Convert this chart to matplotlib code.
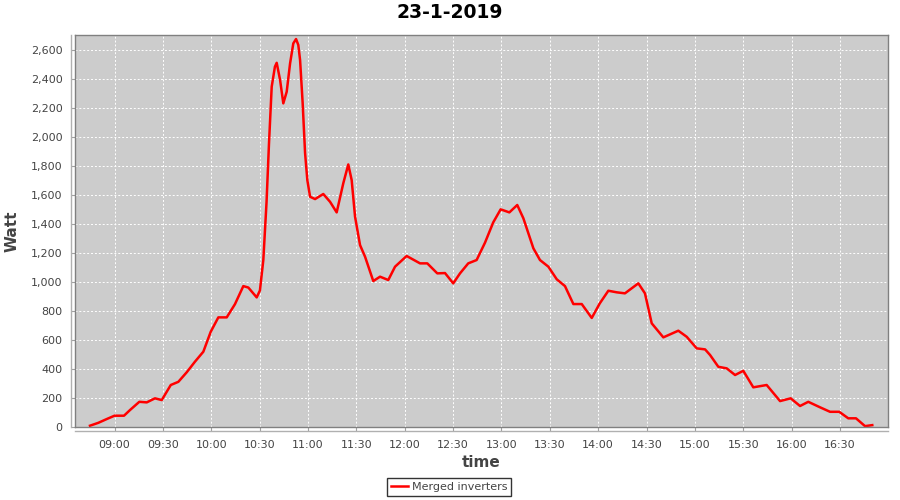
import pandas as pd
import matplotlib
matplotlib.use("Agg")
import matplotlib.pyplot as plt
import matplotlib.dates as mdates
from matplotlib.ticker import FuncFormatter, MultipleLocator

# readings of the merged inverters, 23-1-2019
times = [
    "08:44:48", "08:50:00", "08:55:12", "09:00:00", "09:05:54", "09:09:36",
    "09:15:24", "09:20:00", "09:25:06", "09:29:18", "09:34:54", "09:39:36",
    "09:44:48", "09:49:54", "09:55:06", "09:59:42", "10:04:24", "10:09:36",
    "10:14:42", "10:19:54", "10:23:00", "10:28:12", "10:30:12", "10:32:18",
    "10:34:18", "10:35:48", "10:37:30", "10:39:30", "10:40:36", "10:42:42",
    "10:44:42", "10:46:48", "10:48:54", "10:50:54", "10:52:36", "10:54:00",
    "10:55:06", "10:56:42", "10:58:12", "10:59:36", "11:01:18", "11:04:24",
    "11:09:30", "11:13:42", "11:17:48", "11:21:54", "11:25:00", "11:27:06",
    "11:29:12", "11:32:18", "11:35:24", "11:40:30", "11:44:42", "11:49:48",
    "11:54:00", "12:01:12", "12:09:30", "12:14:00", "12:20:12", "12:25:00",
    "12:30:06", "12:34:18", "12:39:24", "12:44:36", "12:49:48", "12:54:54",
    "12:59:30", "13:04:54", "13:09:48", "13:13:36", "13:19:48", "13:23:54",
    "13:29:06", "13:34:18", "13:39:24", "13:44:36", "13:49:48", "13:56:00",
    "14:01:00", "14:06:18", "14:11:30", "14:16:36", "14:24:54", "14:29:00",
    "14:33:12", "14:40:24", "14:49:42", "14:54:54", "15:01:06", "15:06:18",
    "15:09:24", "15:14:30", "15:19:42", "15:24:54", "15:30:00", "15:36:12",
    "15:44:30", "15:52:48", "15:59:24", "16:05:12", "16:10:18", "16:17:36",
    "16:23:48", "16:29:30", "16:35:06", "16:39:54", "16:45:30", "16:50:00",
]
watt = [
    6, 26, 52, 75, 75, 114,
    171, 167, 195, 183, 287, 309,
    375, 448, 517, 655, 754, 754,
    845, 970, 960, 892, 940, 1150,
    1550, 1950, 2347, 2485, 2512, 2393,
    2232, 2312, 2508, 2646, 2676, 2635,
    2531, 2234, 1889, 1702, 1587, 1571,
    1606, 1552, 1479, 1680, 1810, 1702,
    1449, 1253, 1173, 1005, 1035, 1012,
    1104, 1178, 1127, 1127, 1058, 1060,
    989, 1058, 1127, 1150, 1270, 1410,
    1500, 1479, 1530, 1438, 1231, 1150,
    1104, 1017, 970, 846, 846, 750,
    851, 938, 927, 920, 989, 920,
    713, 616, 662, 620, 540, 533,
    494, 413, 402, 356, 385, 271,
    287, 176, 195, 142, 171, 133,
    102, 102, 57, 57, 3, 10,
]

day = "2019-01-23 "
t = pd.to_datetime([day + s for s in times])

fig = plt.figure(figsize=(9, 5), dpi=100)
ax = fig.add_axes([75 / 900, 73 / 500, 813 / 900, 392 / 500])
ax.set_facecolor("#cccccc")

ax.plot(t, watt, color="red", linewidth=1.8, solid_joinstyle="round",
        label="Merged inverters")

ax.set_xlim(pd.Timestamp(day + "08:35:30"), pd.Timestamp(day + "16:59:45"))
ax.set_ylim(-3, 2704)

ax.yaxis.set_major_locator(MultipleLocator(200))
ax.yaxis.set_major_formatter(FuncFormatter(lambda v, p: f"{int(v):,}"))
ax.xaxis.set_major_locator(mdates.MinuteLocator(byminute=[0, 30]))
ax.xaxis.set_major_formatter(mdates.DateFormatter("%H:%M"))

ax.grid(True, color="white", linestyle=(0, (2, 2)), linewidth=0.7)
ax.set_axisbelow(True)

for s in ax.spines.values():
    s.set_color("#808080")
    s.set_linewidth(1)
# separate axis lines, offset from the plot border as in the original
ax.spines["left"].set_visible(False)
ax.spines["bottom"].set_visible(False)
ax.plot([-4 / 813, -4 / 813], [0, 1], transform=ax.transAxes, color="#b0b0b0",
        linewidth=1, clip_on=False)
ax.plot([0, 1], [-4 / 392, -4 / 392], transform=ax.transAxes, color="#b0b0b0",
        linewidth=1, clip_on=False)
ax.plot([0, 0], [0, 1], transform=ax.transAxes, color="#808080", linewidth=1,
        clip_on=False)
ax.plot([0, 1], [0, 0], transform=ax.transAxes, color="#808080", linewidth=1,
        clip_on=False)

ax.tick_params(axis="both", labelsize=8, labelcolor="#444444", color="#a0a0a0",
               length=3, direction="out")
ax.tick_params(axis="y", pad=6)
ax.tick_params(axis="x", pad=6)

ax.set_xlabel("time", fontsize=11, fontweight="bold", color="#444444", labelpad=4)
ax.set_ylabel("Watt", fontsize=11, fontweight="bold", color="#444444", labelpad=8)

fig.suptitle("23-1-2019", x=0.5, y=0.995, fontsize=13.5, fontweight="bold")

leg = fig.legend(loc="center", bbox_to_anchor=(449 / 900, 13 / 500), fontsize=8,
                 frameon=True, fancybox=False, edgecolor="black", handlelength=1.6,
                 borderpad=0.35, handletextpad=0.3)
leg.get_frame().set_linewidth(1)
for txt in leg.get_texts():
    txt.set_color("#444444")

fig.savefig("out.png", dpi=100)
